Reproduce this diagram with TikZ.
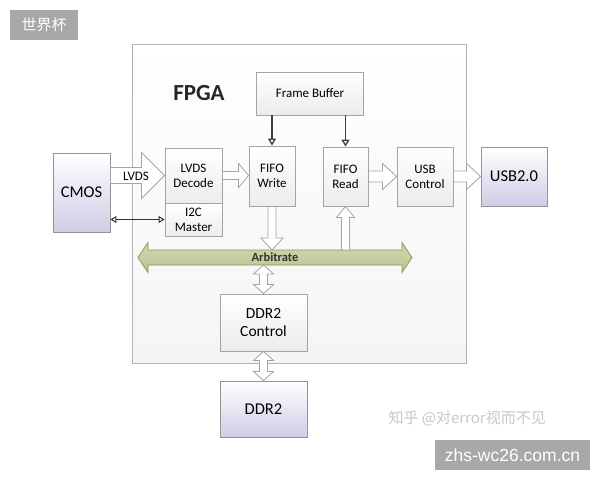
\documentclass[tikz,border=0pt]{standalone}
\usepackage{fontspec}
\setmainfont{Carlito}
\newfontfamily\cjk{Noto Sans CJK SC}
\newfontfamily\wmfont{Liberation Sans}
\usetikzlibrary{arrows.meta,calc}
\definecolor{bordergray}{HTML}{A4A4A4}
\definecolor{boxbot}{HTML}{ECECEC}
\definecolor{lav}{HTML}{D2CBE6}
\definecolor{arbfill}{HTML}{C5CE9C}
\definecolor{arbdraw}{HTML}{889858}
\definecolor{wmgray}{HTML}{A8A8A8}
\definecolor{dkarrow}{HTML}{404040}
\newcommand\fatarrow[6][harrow]{%
  \coordinate (faS) at #2;
  \coordinate (faE) at #3;
  \coordinate (faH) at ($(faE)!#6!(faS)$);
  \draw[#1] ($(faS)!#4!90:(faE)$) -- ($(faH)!#4!90:(faE)$) -- ($(faH)!#5!90:(faE)$) -- (faE)
    -- ($(faH)!#5!-90:(faE)$) -- ($(faH)!#4!-90:(faE)$) -- ($(faS)!#4!-90:(faE)$) -- cycle;}
\newcommand\fatdarrow[6][harrow]{%
  \coordinate (faS) at #2;
  \coordinate (faE) at #3;
  \coordinate (faH) at ($(faE)!#6!(faS)$);
  \coordinate (faG) at ($(faS)!#6!(faE)$);
  \draw[#1] (faS) -- ($(faG)!#5!90:(faE)$) -- ($(faG)!#4!90:(faE)$) -- ($(faH)!#4!90:(faE)$)
    -- ($(faH)!#5!90:(faE)$) -- (faE) -- ($(faH)!#5!-90:(faE)$) -- ($(faH)!#4!-90:(faE)$)
    -- ($(faG)!#4!-90:(faE)$) -- ($(faG)!#5!-90:(faE)$) -- cycle;}
\begin{document}
\begin{tikzpicture}[x=1pt,y=-1pt,
  blk/.style={draw=bordergray, line width=0.9pt, top color=white, bottom color=boxbot,
    align=center, font=\fontsize{13}{15}\selectfont, inner sep=0pt},
  ext/.style={blk, draw=bordergray!90!black, bottom color=lav, font=\fontsize{16.5}{18}\selectfont},
  harrow/.style={draw=bordergray, fill=white, line width=0.8pt, line join=miter},
  arbstyle/.style={draw=arbdraw, line width=0.8pt, top color=arbfill!80!white, bottom color=arbfill!95!black, line join=miter},
  fbarrow/.style={draw=dkarrow, line width=1.3pt, -{Triangle[open,length=7pt,width=8pt]}},
  ctlarrow/.style={draw=black!80, line width=1pt, {Triangle[open,length=6pt,width=7pt]}-{Triangle[open,length=6pt,width=7pt]}},
  wmbox/.style={fill=wmgray, text=white, inner sep=0pt}
]
\useasboundingbox (0,0) rectangle (600,480);
\fill[white] (0,0) rectangle (600,480);

% FPGA frame
\draw[draw=bordergray!85, line width=1pt, top color=white, bottom color=white!96!black] (132,44) rectangle (466,363);
\node[font=\fontsize{23}{26}\selectfont\bfseries, text=black!85] (fpga) at (199,93) {FPGA};

% blocks
\node[blk, minimum width=107pt, minimum height=43pt] (fb) at (310,93.5) {Frame Buffer};
\node[blk, minimum width=46pt, minimum height=60pt] (fw) at (272,176) {FIFO\\Write};
\node[blk, minimum width=45pt, minimum height=59pt] (fr) at (345.5,176.5) {FIFO\\Read};
\node[blk, minimum width=56pt, minimum height=59pt] (usb) at (425,176.5) {USB\\Control};
\node[blk, minimum width=57pt, minimum height=55pt] (lvds) at (193.5,175.5) {LVDS\\Decode};
\node[blk, minimum width=57pt, minimum height=33pt] (i2c) at (193.5,219.5) {I2C\\Master};
\node[blk, minimum width=87pt, minimum height=57pt, font=\fontsize{15.5}{18}\selectfont] (ddrc) at (263.5,322.5) {DDR2\\Control};

\node[ext, minimum width=57pt, minimum height=79pt] (cmos) at (81.5,192.5) {CMOS};
\node[ext, minimum width=66pt, minimum height=59pt] (usb2) at (514,176.5) {USB2.0};
\node[ext, minimum width=87pt, minimum height=56pt] (ddr) at (263.5,409) {DDR2};

% Arbitrate bus
\coordinate (arbL) at (138,257.5);
\coordinate (arbR) at (412,257.5);
\coordinate (arbtop) at (275,250);
\coordinate (arbbot) at (275,265);
\fatdarrow[arbstyle]{(arbL)}{(arbR)}{7.5pt}{15pt}{10pt}
\node[font=\fontsize{12.5}{14}\selectfont\bfseries, text=black!80] (arb) at (275,257.5) {Arbitrate};

% hollow arrows
\fatarrow{(cmos.east |- lvds)}{(lvds.west)}{8pt}{23pt}{23pt}
\node[font=\fontsize{13}{15}\selectfont] (lvdslbl) at (136,176) {LVDS};
\fatarrow{(lvds.east)}{(lvds.east -| fw.west)}{4pt}{12pt}{10pt}
\fatarrow{(fr.east)}{(usb.west)}{5.5pt}{13pt}{14pt}
\fatarrow{(usb.east)}{(usb2.west)}{5.5pt}{13pt}{14pt}
\fatarrow{(fw.south)}{(fw.south |- arbtop)}{4pt}{11pt}{12pt}
\fatarrow{(fr.south |- arbtop)}{(fr.south)}{4pt}{9pt}{11pt}
\fatdarrow{(ddrc.north |- arbbot)}{(ddrc.north)}{4pt}{10pt}{9pt}
\fatdarrow{(ddrc.south)}{(ddr.north)}{4pt}{10pt}{9pt}

% thin arrows
\draw[fbarrow] (fb.south -| fw) -- (fw.north);
\draw[fbarrow] (fb.south -| fr) -- (fr.north);
\draw[ctlarrow] (cmos.east |- i2c) -- (i2c.west);

% watermarks
\node[wmbox, minimum width=68pt, minimum height=30pt, font=\cjk\fontsize{15}{17}\selectfont] (wm1) at (44,25) {世界杯};
\node[text=black!22, font=\cjk\fontsize{15}{17}\selectfont, anchor=west] (wm2) at (385,418) {知乎 @对error视而不见};
\node[wmbox, minimum width=155pt, minimum height=30pt, font=\wmfont\fontsize{17.5}{20}\selectfont] (wm3) at (512.5,455) {zhs-wc26.com.cn};
\end{tikzpicture}
\end{document}
